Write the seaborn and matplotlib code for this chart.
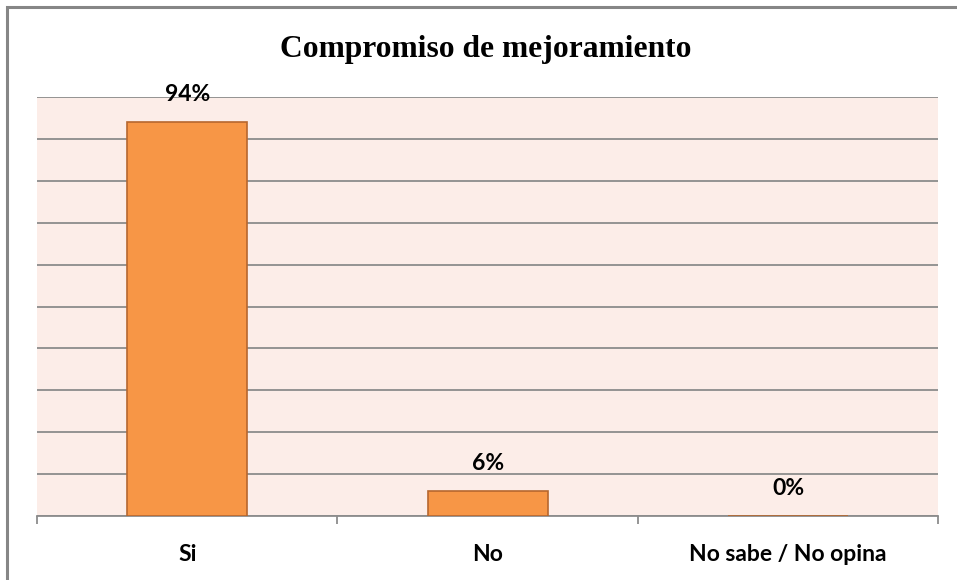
import matplotlib
matplotlib.use("Agg")
import matplotlib.pyplot as plt
import seaborn as sns
import pandas as pd
from matplotlib.ticker import MultipleLocator, FixedLocator
from matplotlib.patches import Rectangle

categories = ["Si", "No", "No sabe / No opina"]
values = [0.94, 0.06, 0.0]
value_labels = ["94%", "6%", "0%"]
title = "Compromiso de mejoramiento"

df = pd.DataFrame({"cat": categories, "val": values})

sns.set_style("white")
plt.rcParams['font.family'] = ['Lato', 'DejaVu Sans']
plt.rcParams['text.color'] = '#000000'

fig = plt.figure(figsize=(9.57, 5.80), dpi=100)
ax = fig.add_axes([37/957, 1 - 516/580, (938.5 - 37)/957, (516 - 97)/580])

sns.barplot(data=df, x="cat", y="val", color="#F79646", width=0.4,
            edgecolor="#B7672E", linewidth=1.2, saturation=1, ax=ax, zorder=3)

ax.set_facecolor("#FCEDE8")
ax.set_ylim(0, 1.0)
ax.set_xlim(-0.5, 2.5)
ax.yaxis.set_major_locator(MultipleLocator(0.1))
ax.grid(axis="y", color="#8C8C8C", linewidth=1.3, zorder=0)
ax.set_axisbelow(True)
ax.set_yticklabels([])
ax.tick_params(axis="y", length=0)
ax.set_xlabel("")
ax.set_ylabel("")

for s in ["left", "right", "top"]:
    ax.spines[s].set_visible(False)
ax.spines["bottom"].set_color("#8C8C8C")
ax.spines["bottom"].set_linewidth(1.3)

ax.tick_params(axis="x", which="major", length=0, pad=20, labelsize=16.5, labelcolor="#000000")
ax.xaxis.set_minor_locator(FixedLocator([-0.5, 0.5, 1.5, 2.5]))
ax.tick_params(axis="x", which="minor", bottom=True, length=6, width=1.3,
               color="#8C8C8C", direction="out")
for lbl in ax.get_xticklabels():
    lbl.set_fontweight("bold")

for i, (v, t) in enumerate(zip(values, value_labels)):
    ax.annotate(t, (i, v), xytext=(0, 12), textcoords="offset points",
                ha="center", va="bottom", fontsize=16.5, fontweight="bold", color="#000000")

fig.text(486/957, 1 - 57/580, title, ha="center", va="baseline", color="#000000",
         fontsize=22.7, fontweight="bold", family=["Liberation Serif", "DejaVu Serif"])

fig.patches.append(Rectangle((7/957, -0.05), 1.0, 1.05 - 7/580,
                             transform=fig.transFigure, fill=False,
                             edgecolor="#868686", linewidth=2.2))

fig.savefig("out.png", dpi=100)
